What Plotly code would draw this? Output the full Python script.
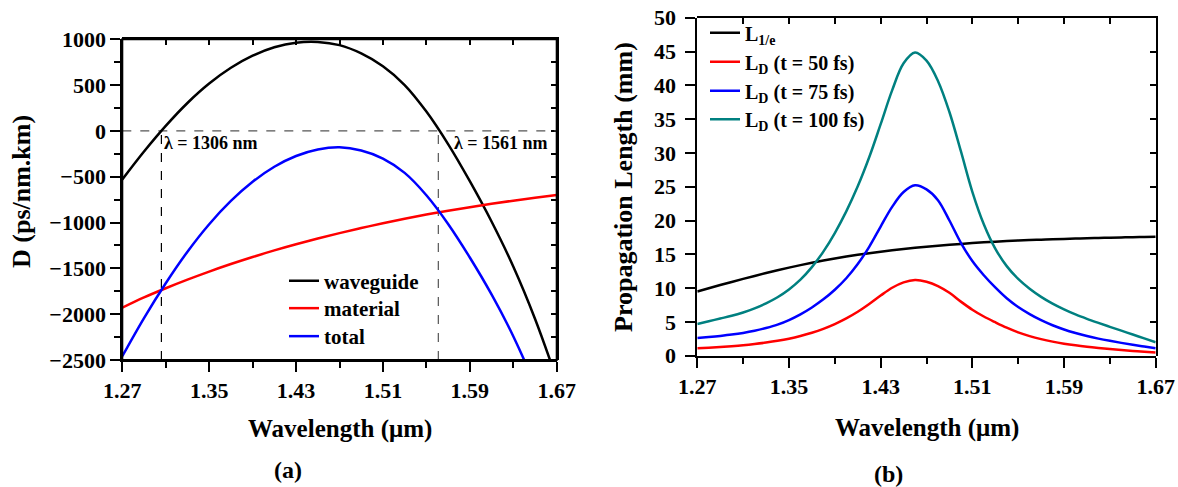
import plotly.graph_objects as go

# ---------------- Panel (a): dispersion (ps/nm.km) ----------------
wl_a = [1.27, 1.29, 1.31, 1.33, 1.35, 1.37, 1.39, 1.41, 1.43, 1.45, 1.47,
        1.49, 1.51, 1.53, 1.55, 1.57, 1.59, 1.61, 1.63, 1.65, 1.67]
d_waveguide = [-530, -225, 55, 305, 517, 689, 821, 913, 963, 971, 936,
               846, 706, 501, 211, -144, -549, -989, -1479, -2049, -2709]
d_material = [-1929, -1817, -1717, -1623, -1535, -1453, -1376, -1304, -1237, -1174, -1115,
              -1060, -1008, -959, -913, -871, -832, -795, -761, -729, -698]
d_total = [-2459, -2042, -1662, -1318, -1018, -764, -555, -391, -274, -203, -179,
           -214, -302, -458, -702, -1015, -1381, -1784, -2240, -2778, -3407]
zero_wl = [1.306, 1.561]
zero_labels = ["λ = 1306 nm", "λ = 1561 nm"]

# ---------------- Panel (b): propagation lengths (mm) ----------------
wl_b = [1.27, 1.28, 1.29, 1.30, 1.31, 1.32, 1.33, 1.34, 1.35, 1.36, 1.37,
        1.38, 1.39, 1.40, 1.41, 1.42, 1.43, 1.44, 1.45, 1.46, 1.47,
        1.48, 1.49, 1.50, 1.51, 1.52, 1.53, 1.54, 1.55, 1.56, 1.57,
        1.58, 1.59, 1.60, 1.61, 1.62, 1.63, 1.64, 1.65, 1.66, 1.67]
l_1e = [9.5, 9.98, 10.45, 10.91, 11.36, 11.8, 12.23, 12.64, 13.03, 13.4, 13.75,
        14.08, 14.39, 14.67, 14.93, 15.17, 15.39, 15.59, 15.78, 15.96, 16.12,
        16.27, 16.41, 16.54, 16.66, 16.77, 16.87, 16.96, 17.04, 17.11, 17.17,
        17.23, 17.28, 17.33, 17.38, 17.42, 17.46, 17.5, 17.54, 17.57, 17.6]
l_d50 = [1.1, 1.18, 1.28, 1.4, 1.54, 1.72, 1.94, 2.2, 2.52, 2.92, 3.4,
         3.98, 4.68, 5.52, 6.5, 7.65, 8.9, 10.05, 10.85, 11.2, 10.95,
         10.3, 9.3, 8.0, 6.8, 5.8, 4.95, 4.15, 3.45, 2.9, 2.45,
         2.08, 1.78, 1.53, 1.32, 1.14, 0.98, 0.84, 0.71, 0.58, 0.46]
l_d75 = [2.6, 2.75, 2.92, 3.12, 3.37, 3.69, 4.09, 4.59, 5.27, 6.12, 7.14,
         8.34, 9.76, 11.46, 13.56, 16.11, 19.11, 22.01, 24.21, 25.21, 24.61,
         23.01, 20.0, 16.7, 14.0, 11.9, 10.1, 8.5, 7.2, 6.15, 5.25,
         4.5, 3.88, 3.36, 2.91, 2.53, 2.2, 1.9, 1.62, 1.36, 1.11]
l_d100 = [4.7, 5.1, 5.5, 5.9, 6.4, 7.0, 7.75, 8.65, 9.8, 11.25, 13.1,
          15.4, 18.15, 21.35, 25.05, 29.35, 34.25, 39.25, 43.25, 44.85, 43.65,
          40.65, 36.05, 30.25, 24.25, 19.45, 15.85, 13.25, 11.35, 9.9, 8.7,
          7.7, 6.85, 6.1, 5.45, 4.85, 4.27, 3.7, 3.13, 2.56, 1.99]

x_range = [1.27, 1.67]
x_tick0, x_dtick, x_minor = 1.27, 0.08, 0.04
ya_range = [-2500, 1000]
ya_dtick, ya_minor = 500, 250
yb_range = [0, 50]
yb_dtick = 5

FONT = "Liberation Serif"
TICKFONT = dict(family=FONT, size=22, color="black", weight="bold")
LW = 2.5
W, H = 1178, 487

fig = go.Figure()

# panel (a) content lives on hidden axes x5/y5; visible axes x/y and x3/y3 only frame it
fig.add_trace(go.Scatter(x=x_range, y=[0, 0], mode="lines", showlegend=False, hoverinfo="skip",
                         line=dict(color="#555555", width=1.2, dash="dash"), xaxis="x5", yaxis="y5"))
for wl, col in zip(zero_wl, ["black", "#555555"]):
    fig.add_trace(go.Scatter(x=[wl, wl], y=[ya_range[0], 0], mode="lines", showlegend=False,
                             hoverinfo="skip", line=dict(color=col, width=1.2, dash="dash"),
                             xaxis="x5", yaxis="y5"))

series_a = [("waveguide", d_waveguide, "black", "legend", 281),
            ("material", d_material, "#FF0000", "legend3", 308.5),
            ("total", d_total, "#0000FF", "legend4", 336.5)]
for name, vals, col, lg, _ in series_a:
    fig.add_trace(go.Scatter(x=wl_a, y=vals, mode="lines", name="<b>" + name + "</b>",
                             line=dict(color=col, width=LW, shape="spline", smoothing=1),
                             xaxis="x5", yaxis="y5", legend=lg))

series_b = [("L<sub>1/e</sub>", l_1e, "black", "legend2", 32.7),
            ("L<sub>D</sub> (t = 50 fs)", l_d50, "#FF0000", "legend5", 61.7),
            ("L<sub>D</sub> (t = 75 fs)", l_d75, "#0000FF", "legend6", 90.7),
            ("L<sub>D</sub> (t = 100 fs)", l_d100, "#008080", "legend7", 119.3)]
for name, vals, col, lg, _ in series_b:
    fig.add_trace(go.Scatter(x=wl_b, y=vals, mode="lines", name="<b>" + name + "</b>",
                             line=dict(color=col, width=LW, shape="spline", smoothing=1),
                             xaxis="x2", yaxis="y2", legend=lg))

# invisible helper traces so the framing subplots get drawn
for xa, ya, yv in [("x", "y", ya_range[0]), ("x3", "y3", ya_range[0]), ("x4", "y4", yb_range[0])]:
    fig.add_trace(go.Scatter(x=[x_range[0]], y=[yv], mode="markers", opacity=0,
                             showlegend=False, hoverinfo="skip", xaxis=xa, yaxis=ya))

fig.add_annotation(x=zero_wl[0], y=0, xref="x5", yref="y5", text="<b>" + zero_labels[0] + "</b>",
                   showarrow=False, xanchor="left", yanchor="top", xshift=1, yshift=0,
                   font=dict(family=FONT, size=18, color="black"))
fig.add_annotation(x=x_range[1], y=0, xref="x5", yref="y5", text="<b>" + zero_labels[1] + "</b>",
                   showarrow=False, xanchor="right", yanchor="top", xshift=-7, yshift=0,
                   font=dict(family=FONT, size=18, color="black"))

def ann(text, x, y, size, angle=0):
    fig.add_annotation(x=x, y=y, xref="paper", yref="paper", text="<b>" + text + "</b>",
                       showarrow=False, xanchor="center", yanchor="middle", textangle=angle,
                       font=dict(family=FONT, size=size, color="black"))

ann("D (ps/nm.km)", 21 / W, 1 - 192 / H, 26, -90)
ann("Propagation Length (mm)", 623 / W, 1 - 187 / H, 26, -90)
ann("Wavelength (μm)", 340 / W, 1 - 429 / H, 25)
ann("Wavelength (μm)", 927 / W, 1 - 428 / H, 25)
ann("(a)", 288 / W, 1 - 470 / H, 24)
ann("(b)", 888 / W, 1 - 474 / H, 24)

dom_ax = [122.3 / W, 556.7 / W]
dom_ay = [1 - 360 / H, 1 - 39.3 / H]
dom_bx = [697.3 / W, 1155.7 / W]
dom_by = [1 - 355.7 / H, 1 - 17.7 / H]

# fallback frame for panel (a)
fig.add_shape(type="rect", xref="paper", yref="paper", x0=dom_ax[0], x1=dom_ax[1],
              y0=dom_ay[0], y1=dom_ay[1], line=dict(color="black", width=2), layer="above")

LINE = dict(showline=True, linewidth=2, linecolor="black", showgrid=False,
            zeroline=False, automargin=False)
TK_OUT = dict(ticks="outside", ticklen=10, tickwidth=2, tickcolor="black")
TK_IN = dict(ticks="inside", ticklen=6, tickwidth=2, tickcolor="black")

def x_bottom(domain, anchor):
    return dict(domain=domain, anchor=anchor, range=x_range, tickmode="linear",
                tick0=x_tick0, dtick=x_dtick, tickformat=".2f", tickfont=TICKFONT,
                minor=dict(tick0=x_tick0, dtick=x_minor, ticks="outside", ticklen=6,
                           tickwidth=2, tickcolor="black"),
                **TK_OUT, **LINE)

def x_top(domain, anchor):
    return dict(domain=domain, anchor=anchor, side="top", range=x_range, tickmode="linear",
                tick0=x_tick0, dtick=x_minor, showticklabels=False, **TK_IN, **LINE)

def legend_at(x_px, y_px, size):
    return dict(x=x_px / W, y=1 - y_px / H, xanchor="left", yanchor="middle",
                bgcolor="rgba(0,0,0,0)", borderwidth=0, itemwidth=30,
                font=dict(family=FONT, size=size, color="black"))

layout = dict(
    width=W, height=H, margin=dict(l=0, r=0, t=0, b=0, pad=0),
    paper_bgcolor="white", plot_bgcolor="rgba(0,0,0,0)",
    font=dict(family=FONT, color="black"),
    showlegend=True,
    # panel (a) visible frame axes
    xaxis=x_bottom(dom_ax, "y"),
    yaxis=dict(domain=dom_ay, anchor="x", range=ya_range, tickmode="linear",
               tick0=ya_range[0], dtick=ya_dtick, tickfont=TICKFONT,
               minor=dict(tick0=ya_range[0], dtick=ya_minor,
                          ticks="outside", ticklen=6, tickwidth=2, tickcolor="black"),
               **TK_OUT, **LINE),
    xaxis3=x_top(dom_ax, "y3"),
    yaxis3=dict(domain=dom_ay, anchor="x3", side="right", range=ya_range, tickmode="linear",
                tick0=ya_range[0], dtick=ya_minor, showticklabels=False, **TK_IN, **LINE),
    # panel (a) hidden data axes
    xaxis5=dict(domain=dom_ax, anchor="y5", range=x_range, visible=False, automargin=False),
    yaxis5=dict(domain=dom_ay, anchor="x5", range=ya_range, visible=False, automargin=False),
    # panel (b)
    xaxis2=x_bottom(dom_bx, "y2"),
    yaxis2=dict(domain=dom_by, anchor="x2", range=yb_range, tickmode="linear",
                tick0=0, dtick=yb_dtick, tickfont=TICKFONT, ticklabelstandoff=5,
                **TK_OUT, **LINE),
    xaxis4=x_top(dom_bx, "y4"),
    yaxis4=dict(domain=dom_by, anchor="x4", side="right", range=yb_range, tickmode="linear",
                tick0=0, dtick=yb_dtick, showticklabels=False, **TK_IN, **LINE),
)
for name, vals, col, lg, ypx in series_a:
    layout[lg] = legend_at(284, ypx, 21)
for name, vals, col, lg, ypx in series_b:
    layout[lg] = legend_at(705, ypx, 20)

fig.update_layout(**layout)
fig.write_html("out.html")
